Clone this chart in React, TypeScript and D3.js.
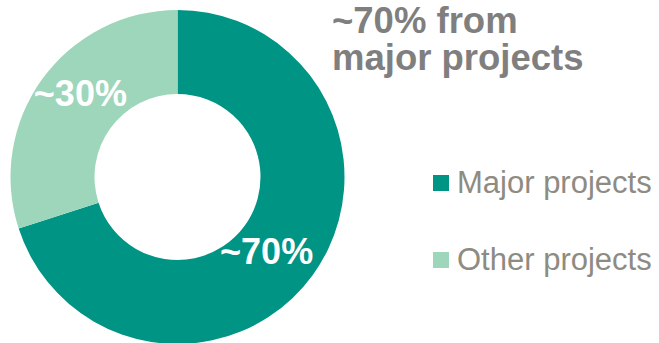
import React from "react";
import * as d3 from "d3";

const categories = ["Major projects", "Other projects"];
const values = [70, 30];
const sliceLabels = ["~70%", "~30%"];
const colors = ["#009485", "#9dd6bb"];
const titleLines = ["~70% from", "major projects"];

const W = 659;
const H = 343;
const cx = 177.5;
const cy = 177;
const outerR = 167;
const innerR = 83;
const labelOffsets = [
  [-12, 14],
  [4, 2],
];

export default function App() {
  const pie = d3
    .pie<number>()
    .sort(null)
    .value((d) => d);
  const arcs = pie(values);
  const arcGen = d3.arc<d3.PieArcDatum<number>>().innerRadius(innerR).outerRadius(outerR);
  const font = "'Liberation Sans', Arial, sans-serif";

  return (
    <svg
      width={W}
      height={H}
      style={{ position: "absolute", left: 0, top: 0, display: "block" }}
    >
      <rect width={W} height={H} fill="#ffffff" />
      <g transform={`translate(${cx},${cy})`}>
        {arcs.map((a, i) => (
          <path key={i} d={arcGen(a) || ""} fill={colors[i]} />
        ))}
        {arcs.map((a, i) => {
          const [x, y] = arcGen.centroid(a);
          return (
            <text
              key={"l" + i}
              x={x + labelOffsets[i][0]}
              y={y + labelOffsets[i][1]}
              textAnchor="middle"
              fill="#ffffff"
              fontFamily={font}
              fontWeight="bold"
              fontSize={36}
            >
              {sliceLabels[i]}
            </text>
          );
        })}
      </g>
      {titleLines.map((t, i) => (
        <text
          key={"t" + i}
          x={332}
          y={33 + i * 37}
          fill="#7f7f7f"
          fontFamily={font}
          fontWeight="bold"
          fontSize={36.5}
        >
          {t}
        </text>
      ))}
      {categories.map((c, i) => (
        <g key={"lg" + i} transform={`translate(433,${193 + i * 77})`}>
          <rect x={0} y={-18} width={16} height={16} fill={colors[i]} />
          <text
            x={24}
            y={0}
            fill="#8e8b82"
            fontFamily={font}
            fontSize={31}
          >
            {c}
          </text>
        </g>
      ))}
    </svg>
  );
}
